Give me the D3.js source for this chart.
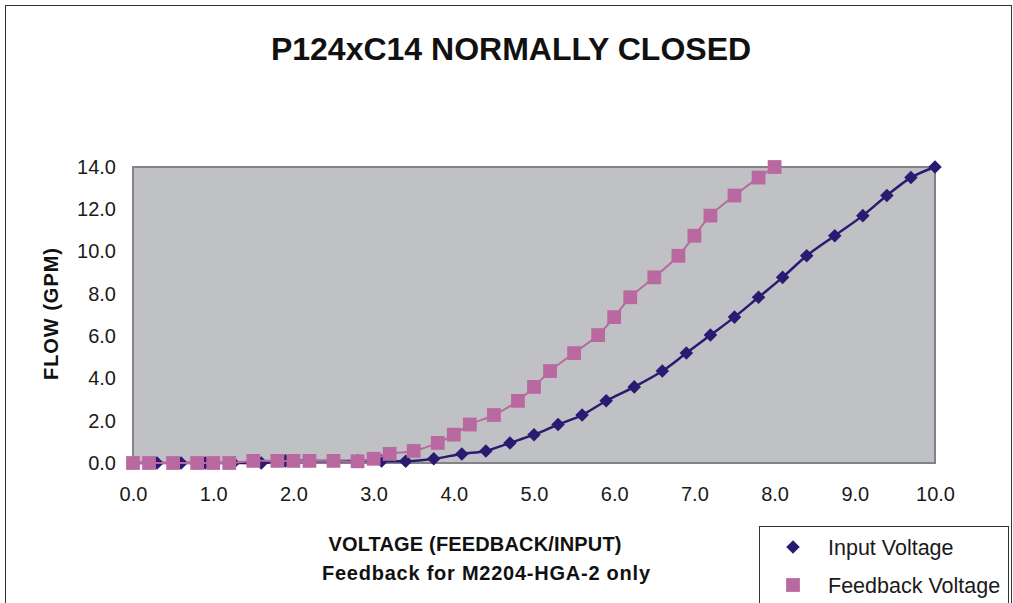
<!DOCTYPE html>
<html>
<head>
<meta charset="utf-8">
<script src="https://cdn.jsdelivr.net/npm/d3@7"></script>
<style>
  body { margin: 0; background: #fff; }
  svg { display: block; font-family: "Liberation Sans", Arial, sans-serif; }
</style>
</head>
<body>
<div id="chart"></div>
<script>
// ================================
// Data
// ================================
const feedbackVolts = [0, 0.2, 0.5, 0.8, 1.0, 1.2, 1.5, 1.8, 2.0, 2.2, 2.5, 2.8, 3.0, 3.2, 3.5, 3.8,
  4.0, 4.2, 4.5, 4.8, 5.0, 5.2, 5.5, 5.8, 6.0, 6.2, 6.5, 6.8, 7.0, 7.2, 7.5, 7.8, 8.0];
const inputVolts = [0, 0.3, 0.6, 0.9, 1.25, 1.6, 1.9, 2.2, 2.5, 2.8, 3.1, 3.4, 3.75, 4.1, 4.4, 4.7,
  5.0, 5.3, 5.6, 5.9, 6.25, 6.6, 6.9, 7.2, 7.5, 7.8, 8.1, 8.4, 8.75, 9.1, 9.4, 9.7, 10.0];
// both series share the same flow readings
const flowGpm = [0, 0, 0, 0, 0, 0, 0.1, 0.1, 0.1, 0.1, 0.1, 0.08, 0.2, 0.43, 0.57, 0.95,
  1.34, 1.82, 2.27, 2.94, 3.6, 4.35, 5.2, 6.05, 6.9, 7.84, 8.78, 9.8, 10.75, 11.7, 12.65, 13.5, 14.0];

const xTicks = [0, 1, 2, 3, 4, 5, 6, 7, 8, 9, 10];
const yTicks = [0, 2, 4, 6, 8, 10, 12, 14];

const seriesNames = ['Input Voltage', 'Feedback Voltage'];
const NAVY = '#2b1a72';
const PINK = '#b9699f';

// ================================
// Layout
// ================================
const W = 1013, H = 603;
const plot = { left: 133, right: 935, top: 167, bottom: 463 };

const svg = d3.select('#chart').append('svg')
  .attr('width', W)
  .attr('height', H);

// outer chart frame
svg.append('rect')
  .attr('x', 5.5).attr('y', 5.5)
  .attr('width', 1006).attr('height', H)
  .attr('fill', '#fff')
  .attr('stroke', '#333').attr('stroke-width', 1);

const x = d3.scaleLinear().domain([0, 10]).range([plot.left, plot.right]);
const y = d3.scaleLinear().domain([0, 14]).range([plot.bottom, plot.top]);

// plot area
svg.append('rect')
  .attr('x', x(0)).attr('y', y(14))
  .attr('width', x(10) - x(0)).attr('height', y(0) - y(14))
  .attr('fill', '#c0c1c5')
  .attr('stroke', '#818386').attr('stroke-width', 2);

// axes (labels only, no tick marks)
const xAxis = svg.append('g')
  .attr('transform', `translate(0,${plot.bottom})`)
  .call(d3.axisBottom(x).tickValues(xTicks).tickSize(0).tickPadding(24).tickFormat(d3.format('.1f')));
const yAxis = svg.append('g')
  .attr('transform', `translate(${plot.left},0)`)
  .call(d3.axisLeft(y).tickValues(yTicks).tickSize(0).tickPadding(17).tickFormat(d3.format('.1f')));

[xAxis, yAxis].forEach(g => {
  g.select('.domain').remove();
  g.selectAll('text')
    .attr('fill', '#1a1a1a')
    .attr('font-size', '20px')
    .attr('font-family', '"Liberation Sans", Arial, sans-serif');
});

// ================================
// Series
// ================================
const inputData = inputVolts.map((v, i) => ({ v, f: flowGpm[i] }));
const feedbackData = feedbackVolts.map((v, i) => ({ v, f: flowGpm[i] }));

const line = d3.line()
  .x(d => x(d.v))
  .y(d => y(d.f))
  .curve(d3.curveCatmullRom.alpha(0.5));

const diamond = d3.symbol(d3.symbolSquare, 92);
const square = d3.symbol(d3.symbolSquare, 190);

svg.append('path')
  .datum(inputData)
  .attr('fill', 'none')
  .attr('stroke', NAVY)
  .attr('stroke-width', 2.5)
  .attr('d', line);

svg.append('g').selectAll('path')
  .data(inputData)
  .join('path')
  .attr('transform', d => `translate(${x(d.v)},${y(d.f)}) rotate(45)`)
  .attr('d', diamond)
  .attr('fill', NAVY);

svg.append('path')
  .datum(feedbackData)
  .attr('fill', 'none')
  .attr('stroke', PINK)
  .attr('stroke-width', 2)
  .attr('d', line);

svg.append('g').selectAll('path')
  .data(feedbackData)
  .join('path')
  .attr('transform', d => `translate(${x(d.v)},${y(d.f)})`)
  .attr('d', square)
  .attr('fill', PINK);

// ================================
// Titles
// ================================
svg.append('text')
  .attr('x', 511).attr('y', 60)
  .attr('text-anchor', 'middle')
  .attr('font-size', '32px')
  .attr('font-weight', 'bold')
  .attr('fill', '#111')
  .text('P124xC14 NORMALLY CLOSED');

svg.append('text')
  .attr('transform', 'rotate(-90)')
  .attr('x', -314).attr('y', 58)
  .attr('text-anchor', 'middle')
  .attr('font-size', '20px')
  .attr('font-weight', 'bold')
  .attr('fill', '#111')
  .attr('textLength', 132)
  .text('FLOW (GPM)');

svg.append('text')
  .attr('x', 475).attr('y', 551)
  .attr('text-anchor', 'middle')
  .attr('font-size', '20px')
  .attr('font-weight', 'bold')
  .attr('fill', '#111')
  .attr('textLength', 293)
  .text('VOLTAGE (FEEDBACK/INPUT)');

svg.append('text')
  .attr('x', 486).attr('y', 580)
  .attr('text-anchor', 'middle')
  .attr('font-size', '20px')
  .attr('font-weight', 'bold')
  .attr('fill', '#111')
  .attr('textLength', 328)
  .text('Feedback for M2204-HGA-2 only');

// ================================
// Legend
// ================================
const legend = svg.append('g');
legend.append('rect')
  .attr('x', 759.5).attr('y', 526.5)
  .attr('width', 249).attr('height', 100)
  .attr('fill', '#fff')
  .attr('stroke', '#333').attr('stroke-width', 1);

seriesNames.forEach((name, i) => {
  const cy = 547 + i * 38;
  legend.append('path')
    .attr('transform', `translate(793,${cy})` + (i === 0 ? ' rotate(45)' : ''))
    .attr('d', i === 0 ? diamond : square)
    .attr('fill', i === 0 ? NAVY : PINK);
  legend.append('text')
    .attr('x', 828).attr('y', cy + 8)
    .attr('font-size', '21.5px')
    .attr('fill', '#1a1a1a')
    .text(name);
});
</script>
</body>
</html>
